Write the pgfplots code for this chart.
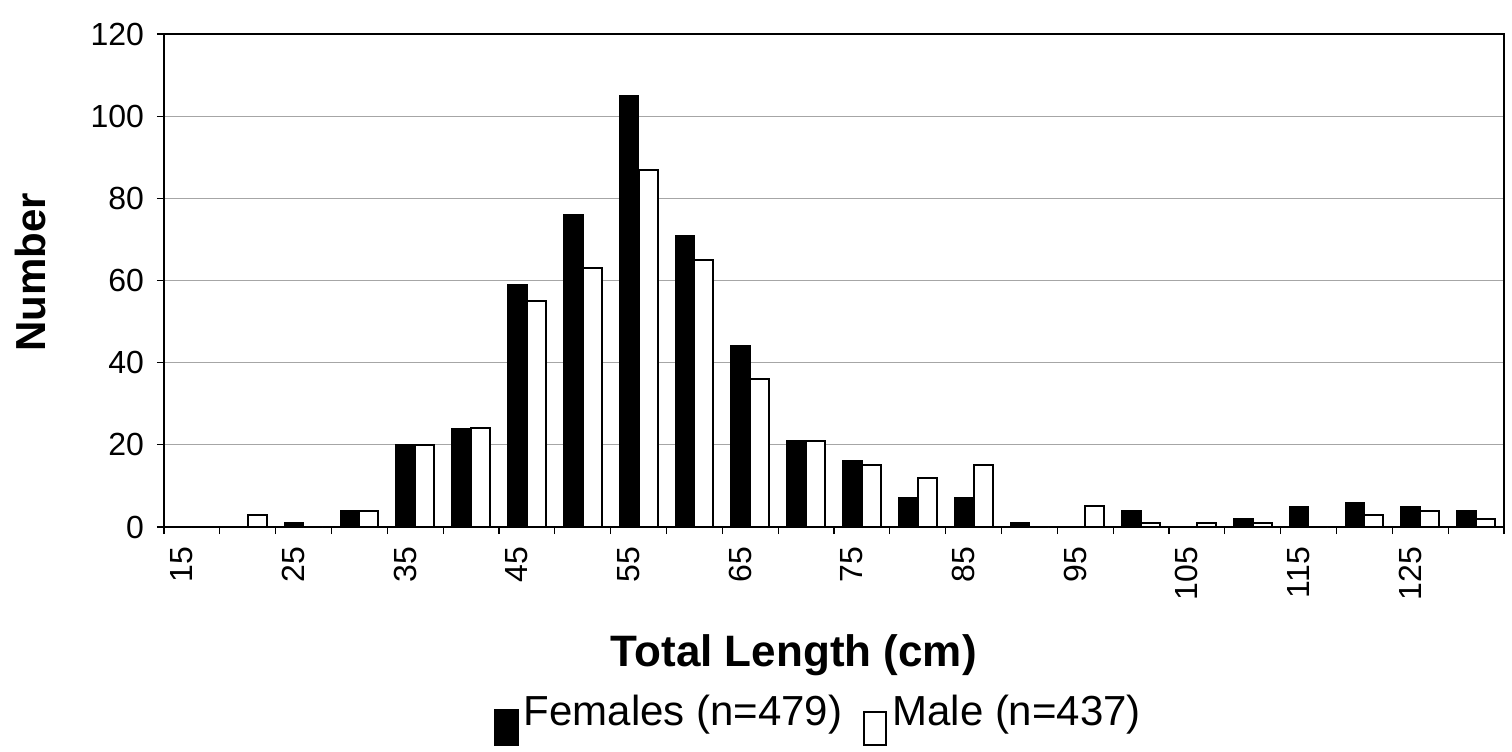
\documentclass[border=0pt]{standalone}
\usepackage{fontspec}
\setmainfont{Liberation Sans}
\usepackage{pgfplots}
\pgfplotsset{compat=1.18}
\begin{document}
\begin{tikzpicture}
\useasboundingbox (-82bp,-112.5bp) rectangle (674bp,263.5bp);
\begin{axis}[
  at={(0,0)}, anchor=south west,
  scale only axis, width=670bp, height=246.5bp,
  xmin=-0.5, xmax=23.5, ymin=0, ymax=120,
  ybar=0pt, bar width=0.34,
  axis line style={line width=1.2bp},
  ytick={0,20,40,60,80,100,120},
  ymajorgrids, grid style={gray!70, line width=0.6bp},
  xtick={-0.5,0.5,1.5,2.5,3.5,4.5,5.5,6.5,7.5,8.5,9.5,10.5,11.5,12.5,13.5,14.5,15.5,16.5,17.5,18.5,19.5,20.5,21.5,22.5,23.5},
  xticklabels={},
  extra x ticks={-0.18,1.82,3.82,5.82,7.82,9.82,11.82,13.82,15.82,17.82,19.82,21.82},
  extra x tick labels={15,25,35,45,55,65,75,85,95,105,115,125},
  extra x tick style={major tick length=0pt, xticklabel style={yshift=-6.5bp, rotate=90, anchor=east}},
  tick align=outside, major tick length=3.5bp,
  tick style={black, line width=0.6bp},
  xtick pos=bottom, ytick pos=left,
  tick label style={font=\fontsize{16bp}{18bp}\selectfont},
  yticklabel shift=3bp,
  /pgf/number format/assume math mode=true,
  xlabel={\textbf{Total Length (cm)}},
  xlabel style={at={(axis description cs:0.470,-0.2596)}, anchor=center, font=\fontsize{22bp}{24bp}\selectfont},
  ylabel={\textbf{Number}},
  ylabel style={at={(axis description cs:-0.1,0.516)}, anchor=center, font=\fontsize{21bp}{24bp}\selectfont},
  legend columns=2,
  legend style={at={(axis description cs:0.4896,-0.389)}, anchor=center, draw=none, fill=none,
    font=\fontsize{21bp}{24bp}\selectfont,
    nodes={inner xsep=2.5bp},
    /tikz/every even column/.append style={column sep=8bp}},
]
\addplot[fill=black, draw=black, line width=0.8bp,
  legend image code/.code={\draw[fill=black, draw=black, line width=0.8bp] (0bp,-16.7bp) rectangle (11.5bp,1.3bp);}]
coordinates {
(0,0) (1,0) (2,1) (3,4) (4,20) (5,24) (6,59) (7,76) (8,105) (9,71) (10,44) (11,21)
(12,16) (13,7) (14,7) (15,1) (16,0) (17,4) (18,0) (19,2) (20,5) (21,6) (22,5) (23,4)
};
\addlegendentry{Females (n=479)}
\addplot[fill=white, draw=black, line width=1bp,
  legend image code/.code={\draw[fill=white, draw=black, line width=1bp] (0bp,-16.7bp) rectangle (11bp,0bp);}]
coordinates {
(0,0) (1,3) (2,0) (3,4) (4,20) (5,24) (6,55) (7,63) (8,87) (9,65) (10,36) (11,21)
(12,15) (13,12) (14,15) (15,0) (16,5) (17,1) (18,1) (19,1) (20,0) (21,3) (22,4) (23,2)
};
\addlegendentry{Male (n=437)}
\end{axis}
\end{tikzpicture}
\end{document}
